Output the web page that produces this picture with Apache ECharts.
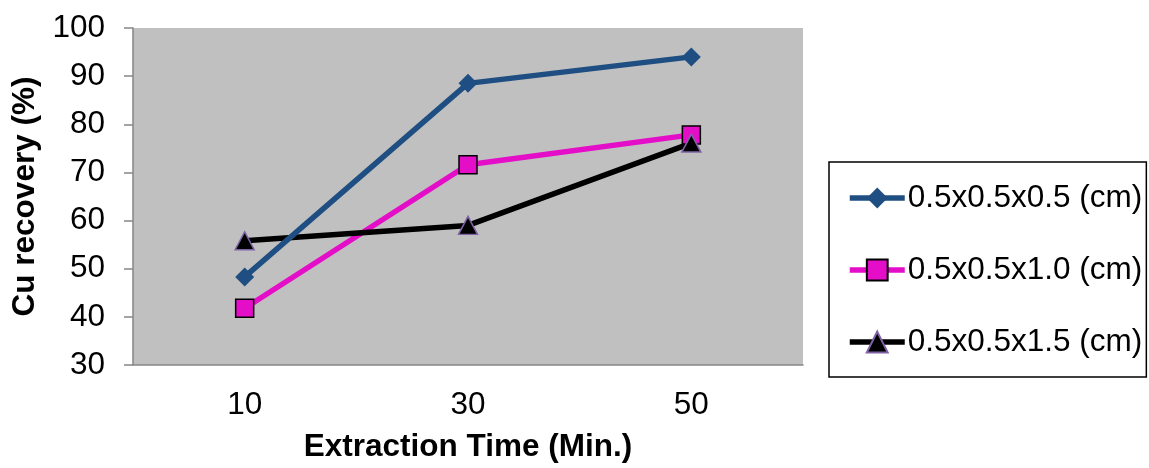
<!DOCTYPE html>
<html>
<head>
<meta charset="utf-8">
<script src="https://cdn.jsdelivr.net/npm/echarts@6/dist/echarts.min.js"></script>
<style>
html,body{margin:0;padding:0;background:#fff;}
#chart{width:1149px;height:468px;}
</style>
</head>
<body>
<div id="chart"></div>
<script>
var categories = ['10', '30', '50'];
var seriesNames = ['0.5x0.5x0.5 (cm)', '0.5x0.5x1.0 (cm)', '0.5x0.5x1.5 (cm)'];
var cube05 = [48.3, 88.5, 94.0];
var cube10 = [41.8, 71.6, 77.8];
var cube15 = [55.8, 59.0, 76.1];
var yTicks = [30, 40, 50, 60, 70, 80, 90, 100];

var FONT = '"Liberation Sans", Arial, sans-serif';
var FS = 31.5;
var chart = echarts.init(document.getElementById('chart'), null, {renderer: 'canvas'});
chart.setOption({
  animation: false,
  backgroundColor: '#ffffff',
  grid: {left: 133, top: 28, width: 670, height: 340, containLabel: false,
         show: true, backgroundColor: '#c0c0c0', borderWidth: 0},
  legend: {
    orient: 'vertical', left: 829, top: 162,
    padding: [20, 4, 19, 18],
    itemGap: 40, itemWidth: 55, itemHeight: 26,
    borderColor: '#000', borderWidth: 1.5,
    lineStyle: {width: 5.5},
    textStyle: {fontFamily: FONT, fontSize: FS, color: '#000', lineHeight: 30, padding: [0,0,0,-2]},
    data: seriesNames
  },
  xAxis: {
    type: 'category', data: categories, boundaryGap: true,
    name: 'Extraction Time (Min.)', nameLocation: 'middle', nameGap: 66,
    nameTextStyle: {fontFamily: FONT, fontSize: FS, fontWeight: 'bold', color: '#000'},
    axisLine: {show: true, lineStyle: {color: '#868686', width: 1.5}},
    axisTick: {show: false},
    axisLabel: {fontFamily: FONT, fontSize: FS, color: '#000', margin: 24},
    splitLine: {show: false}
  },
  yAxis: {
    type: 'value', min: 30, max: 100, interval: 10,
    name: 'Cu recovery (%)', nameLocation: 'middle', nameGap: 86,
    nameTextStyle: {fontFamily: FONT, fontSize: FS, fontWeight: 'bold', color: '#000'},
    axisLine: {show: true, lineStyle: {color: '#868686', width: 1.5}},
    axisTick: {show: true, length: 9, inside: false, lineStyle: {color: '#868686', width: 1.5}},
    axisLabel: {fontFamily: FONT, fontSize: FS, color: '#000', margin: 28,
      formatter: function (v) { return yTicks.indexOf(v) >= 0 ? String(v) : ''; }},
    splitLine: {show: false}
  },
  series: [
    {name: seriesNames[0], type: 'line', data: cube05, z: 3,
     symbol: 'diamond', symbolSize: 19,
     lineStyle: {color: '#1f4e82', width: 5.5},
     itemStyle: {color: '#1f4e82', borderColor: '#1f4e82', borderWidth: 0}},
    {name: seriesNames[1], type: 'line', data: cube10, z: 2,
     symbol: 'rect', symbolSize: 18,
     lineStyle: {color: '#e40ec8', width: 5.5},
     itemStyle: {color: '#e40ec8', borderColor: '#000', borderWidth: 1.5}},
    {name: seriesNames[2], type: 'line', data: cube15, z: 2,
     symbol: 'triangle', symbolSize: [19, 18],
     lineStyle: {color: '#000', width: 5.5},
     itemStyle: {color: '#000', borderColor: '#7f62a6', borderWidth: 1.5}}
  ]
});
</script>
</body>
</html>
